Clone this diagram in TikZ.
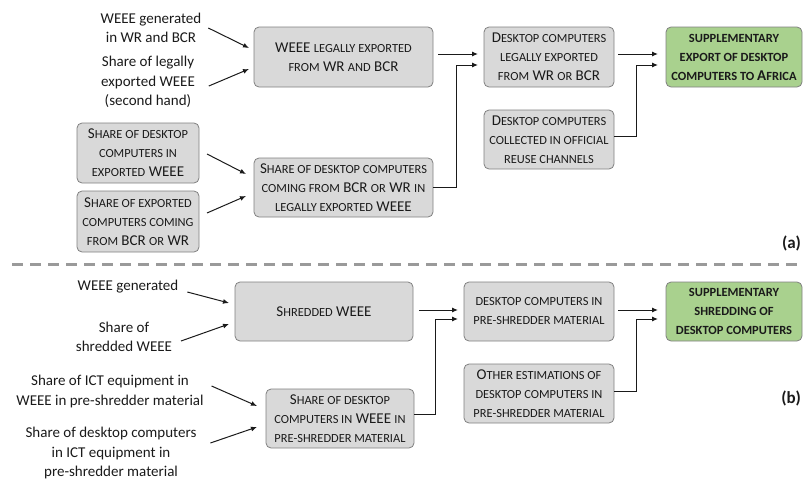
\documentclass[tikz,border=0pt]{standalone}
\usepackage{fontspec}
\setmainfont{Carlito}
\usetikzlibrary{arrows.meta,calc}
\definecolor{boxfill}{HTML}{D9D9D9}
\definecolor{boxline}{HTML}{808080}
\definecolor{greenfill}{HTML}{A9D18E}
\definecolor{ink}{HTML}{1A1A1A}
\definecolor{dashgray}{HTML}{9A9A9A}
\newcommand\sm[1]{{\fontsize{12.4}{19}\selectfont #1}}
\newcommand\bg[1]{{\fontsize{15}{19}\selectfont #1}}
\begin{document}
\begin{tikzpicture}[x=1pt,y=-1pt,
  every node/.style={inner sep=0pt, outer sep=0pt, text=ink},
  box/.style={draw=boxline, fill=boxfill, rounded corners=5pt, line width=0.8pt, align=center, font=\fontsize{15}{19}\selectfont},
  gbox/.style={box, fill=greenfill, font=\fontsize{12.5}{19}\selectfont\bfseries},
  lbl/.style={align=center, font=\fontsize{15}{19.5}\selectfont},
  tag/.style={font=\fontsize{17}{20}\selectfont\bfseries, anchor=east},
  arr/.style={-{Latex[length=6pt,width=5pt]}, line width=1pt, draw=ink},
  ]
\useasboundingbox (0,0) rectangle (803,479);

% ---------- (a) ----------
\node[lbl] (t1) at (151,28) {WEEE generated\\in WR and BCR};
\node[lbl] (t2) at (148,82) {Share of legally\\exported WEEE\\(second hand)};

\node[box, minimum width=179pt, minimum height=60pt] (a1) at (343.5,57)
  {WEEE \sm{LEGALLY EXPORTED}\\\sm{FROM} WR \sm{AND} BCR};
\node[box, minimum width=122pt, minimum height=60pt] (s1) at (138,153)
  {S\sm{HARE OF DESKTOP}\\\sm{COMPUTERS IN}\\\sm{EXPORTED} WEEE};
\node[box, minimum width=122pt, minimum height=61pt] (s2) at (138,221.5)
  {S\sm{HARE OF EXPORTED}\\\sm{COMPUTERS COMING}\\\sm{FROM} BCR \sm{OR} WR};
\node[box, minimum width=179pt, minimum height=59pt] (a2) at (343.5,187.5)
  {S\sm{HARE OF DESKTOP COMPUTERS}\\\sm{COMING FROM} BCR \sm{OR} WR \sm{IN}\\\sm{LEGALLY EXPORTED} WEEE};
\node[box, minimum width=130pt, minimum height=60pt] (d1) at (549,57)
  {D\sm{ESKTOP COMPUTERS}\\\sm{LEGALLY EXPORTED}\\\sm{FROM} WR \sm{OR} BCR};
\node[box, minimum width=130pt, minimum height=59pt] (d2) at (549,139.5)
  {D\sm{ESKTOP COMPUTERS}\\\sm{COLLECTED IN OFFICIAL}\\\sm{REUSE CHANNELS}};
\node[gbox, minimum width=136pt, minimum height=60pt] (g1) at (734,57)
  {SUPPLEMENTARY\\EXPORT OF DESKTOP\\COMPUTERS TO \bg{A}FRICA};

\draw[arr] ($(t1.east)+(7,0)$) -- ($(a1.west)+(-5,-9)$);
\draw[arr] ($(t2.east)+(14,4)$) -- ($(a1.west)+(-5,12)$);
\draw[arr] ($(s1.east)+(8,1)$) -- ($(a2.west)+(-8,-13.5)$);
\draw[arr] ($(s2.east)+(8,-8.5)$) -- ($(a2.west)+(-8,8.5)$);
\draw[arr] ($(a1.east)+(5,-3)$) -- ($(d1.west)+(-6,-3)$);
\draw[arr] (a2.east) -- ++(23,0) |- ($(d1.west)+(-6,8)$);
\draw[arr] ($(d1.east)+(4,-3)$) -- ($(g1.west)+(-8,-3)$);
\draw[arr] ($(d2.east)+(0,-3)$) -- ++(22,0) |- ($(g1.west)+(-8,8)$);

\node[tag] (la) at (801,243) {(a)};

\draw[dashgray, line width=3pt, dash pattern=on 11pt off 7pt] (12,264) -- (803,264);

% ---------- (b) ----------
\node[lbl] (t3) at (128,287) {WEEE generated};
\node[lbl] (t4) at (124,337) {Share of\\shredded WEEE};
\node[lbl] (t5) at (110,391.5) {Share of ICT equipment in\\WEEE in pre-shredder material};
\node[lbl] (t6) at (111,453) {Share of desktop computers\\in ICT equipment in\\pre-shredder material};

\node[box, minimum width=178pt, minimum height=59pt] (b1) at (324,311.5)
  {S\sm{HREDDED} WEEE};
\node[box, minimum width=148pt, minimum height=59pt] (b2) at (340,418.5)
  {S\sm{HARE OF DESKTOP}\\\sm{COMPUTERS IN} WEEE \sm{IN}\\\sm{PRE-SHREDDER MATERIAL}};
\node[box, minimum width=150pt, minimum height=59pt] (b3) at (539,311.5)
  {\sm{DESKTOP COMPUTERS IN}\\\sm{PRE-SHREDDER MATERIAL}};
\node[box, minimum width=150pt, minimum height=59pt] (b4) at (539,393.5)
  {O\sm{THER ESTIMATIONS OF}\\\sm{DESKTOP COMPUTERS IN}\\\sm{PRE-SHREDDER MATERIAL}};
\node[gbox, minimum width=136pt, minimum height=59pt] (g2) at (734,311.5)
  {SUPPLEMENTARY\\SHREDDING OF\\DESKTOP COMPUTERS};

\draw[arr] ($(t3.east)+(9,5)$) -- ($(b1.west)+(-6,-8.5)$);
\draw[arr] ($(t4.east)+(9,4)$) -- ($(b1.west)+(-6,12.5)$);
\draw[arr] ($(t5.east)+(8,-5.5)$) -- ($(b2.west)+(-9,-12.5)$);
\draw[arr] ($(t6.east)+(14,-10)$) -- ($(b2.west)+(-9,8.5)$);
\draw[arr] ($(b1.east)+(6,-1.5)$) -- ($(b3.west)+(-6,-1.5)$);
\draw[arr] ($(b2.east)+(0,-4.5)$) -- ++(21,0) |- ($(b3.west)+(-6,7.5)$);
\draw[arr] ($(b3.east)+(4,-1.5)$) -- ($(g2.west)+(-8,-1.5)$);
\draw[arr] ($(b4.east)+(0,-2.5)$) -- ++(22,0) |- ($(g2.west)+(-8,7.5)$);

\node[tag] (lb) at (801,398) {(b)};
\end{tikzpicture}
\end{document}
